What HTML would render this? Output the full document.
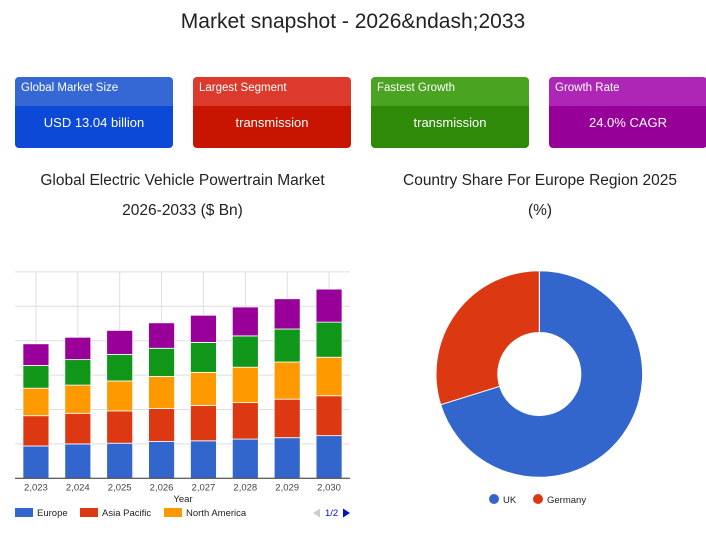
<!DOCTYPE html>
<html><head><meta charset="utf-8"><style>
body{margin:0;width:706px;height:537px;background:#fff;font-family:"Liberation Sans",sans-serif;overflow:hidden;position:relative}
.t{position:absolute;text-align:center;color:#222}
.card{position:absolute;top:77px;width:158px;height:71px;border-radius:4px;overflow:hidden;color:#fff}
.card .h{height:29px;font-size:11.5px;line-height:22px;padding-left:6px}
.card .v{height:42px;font-size:13px;line-height:34px;text-align:center}
</style></head><body>
<div class="t" style="left:0;width:706px;top:10px;font-size:21px">Market snapshot - 2026&amp;ndash;2033</div>
<div class="card" style="left:15px"><div class="h" style="background:#3568d4">Global Market Size</div><div class="v" style="background:#0b49d6">USD 13.04 billion</div></div>
<div class="card" style="left:193px"><div class="h" style="background:#dc3a2c">Largest Segment</div><div class="v" style="background:#c81502">transmission</div></div>
<div class="card" style="left:371px"><div class="h" style="background:#4aa321">Fastest Growth</div><div class="v" style="background:#2e8a08">transmission</div></div>
<div class="card" style="left:549px"><div class="h" style="background:#ad26b5">Growth Rate</div><div class="v" style="background:#970098">24.0% CAGR</div></div>
<div class="t" style="left:10px;width:345px;top:166px;font-size:15.5px;line-height:30px">Global Electric Vehicle Powertrain Market<br>2026-2033 ($ Bn)</div>
<div class="t" style="left:370px;width:340px;top:166px;font-size:15.5px;line-height:30px">Country Share For Europe Region 2025<br>(%)</div>
<svg id="bar" width="706" height="537" style="position:absolute;left:0;top:0"></svg>
<script>
const years=["2,023","2,024","2,025","2,026","2,027","2,028","2,029","2,030"];
const seriesNames=["Europe","Asia Pacific","North America","Segment 4","Segment 5"];
const europe=[0.94,1.0,1.02,1.07,1.09,1.14,1.18,1.24];
const asiaPacific=[0.88,0.89,0.94,0.96,1.03,1.06,1.12,1.16];
const northAmerica=[0.80,0.82,0.87,0.93,0.96,1.03,1.08,1.12];
const seg4=[0.66,0.74,0.77,0.82,0.87,0.91,0.96,1.02];
const seg5=[0.63,0.65,0.70,0.74,0.79,0.84,0.88,0.96];
const pieLabels=["UK","Germany"];
const pieValues=[70.2,29.8];
const NS="http://www.w3.org/2000/svg";
const svg=document.getElementById('bar');
function mk(t,a,p){const e=document.createElementNS(NS,t);for(const k in a)e.setAttribute(k,a[k]);(p||svg).appendChild(e);return e;}
const x0=15,x1=350,yb=478.3,unit=34.4;
const y=v=>yb-v*unit;
const step=(x1-x0)/years.length;
const xc=i=>x0+step*(i+0.5);
for(let g=0;g<=6;g++){const l=mk('line',{x1:x0,x2:x1,y1:y(g),y2:y(g),stroke:'#ddd'});

}
years.forEach((yr,i)=>{const l=mk('line',{x1:xc(i),x2:xc(i),y1:y(6),y2:yb,stroke:'#ddd'});

});
const series=[europe,asiaPacific,northAmerica,seg4,seg5];
const colors=["#3366cc","#dc3912","#ff9900","#109618","#990099"];
years.forEach((yr,i)=>{let acc=0;series.forEach((s,k)=>{const r=mk('rect',{x:xc(i)-13,y:y(acc+s[i]),width:26,height:s[i]*unit,fill:colors[k],stroke:'#fff','stroke-width':0.8});


acc+=s[i];});
const t=mk('text',{x:xc(i),y:yb+12,'text-anchor':'middle','font-size':9.5,fill:'#444'});t.textContent=yr;

});
mk('line',{x1:x0,x2:x1,y1:yb,y2:yb,stroke:'#333'});
const xt=mk('text',{x:183,y:502,'text-anchor':'middle','font-size':9.5,fill:'#222'});xt.textContent="Year";


[[15,"Europe"],[80,"Asia Pacific"],[164,"North America"]].forEach(([lx,n],k)=>{const g=mk('g',{});


mk('rect',{x:lx,y:508,width:18,height:9,fill:colors[k]},g);const t=mk('text',{x:lx+22,y:516,'font-size':9.5,fill:'#222'},g);t.textContent=n;});
mk('polygon',{points:'313,513 320,508.5 320,517.5',fill:'#ccc'});
const pg=mk('text',{x:325,y:516,'font-size':9.5,fill:'#0011cc'});pg.textContent="1/2";


const nx=mk('polygon',{points:'343,508.5 350,513 343,517.5',fill:'#0011cc'});


// pie
const cx=539.3,cy=374,R=103.3,r0=41.5,pc=["#3366cc","#dc3912"];
const tot=pieValues.reduce((a,b)=>a+b,0);let a0=0;
pieValues.forEach((v,k)=>{const a1=a0+v/tot*2*Math.PI;const p=(a,rr)=>[cx+rr*Math.sin(a),cy-rr*Math.cos(a)];
const [ax,ay]=p(a0,R),[bx,by]=p(a1,R),[cx2,cy2]=p(a1,r0),[dx,dy]=p(a0,r0);const lg=(a1-a0)>Math.PI?1:0;
const s=mk('path',{d:`M${ax},${ay}A${R},${R} 0 ${lg} 1 ${bx},${by}L${cx2},${cy2}A${r0},${r0} 0 ${lg} 0 ${dx},${dy}Z`,fill:pc[k],stroke:'#fff','stroke-width':1});


a0=a1;});
[[494,"UK"],[538,"Germany"]].forEach(([lx,n],k)=>{const g=mk('g',{});


mk('circle',{cx:lx,cy:499,r:5,fill:pc[k]},g);const t=mk('text',{x:lx+9,y:503,'font-size':9.5,fill:'#222'},g);t.textContent=n;});
</script>
</body></html>
